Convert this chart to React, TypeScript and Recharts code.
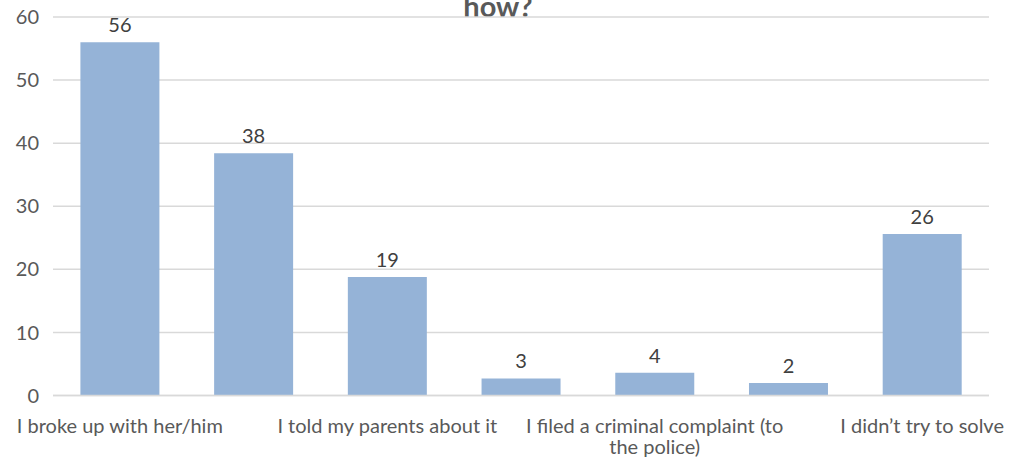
import { BarChart, Bar, XAxis, YAxis, CartesianGrid, LabelList, ReferenceLine } from "recharts";

const categories = [
  "I broke up with her/him",
  "I talked to my friends about it",
  "I told my parents about it",
  "I asked a teacher for help",
  "I filed a criminal complaint (to the police)",
  "I asked a professional for help",
  "I didn\u2019t try to solve",
];
const values = [56.0, 38.4, 18.8, 2.7, 3.6, 2.0, 25.6];
const yTicks = [0, 10, 20, 30, 40, 50, 60];
const titleText = "how?";

const data = categories.map((name, i) => ({ name, value: values[i] }));

const FONT = "Lato, 'Open Sans', sans-serif";
const FS = 20;
const MAX_CHARS = 33;

// simple word wrap by character count
function wrap(label: string): string[] {
  const lines: string[] = [];
  let cur = "";
  for (const w of label.split(" ")) {
    const next = cur ? cur + " " + w : w;
    if (next.length > MAX_CHARS && cur) {
      lines.push(cur);
      cur = w;
    } else {
      cur = next;
    }
  }
  if (cur) lines.push(cur);
  return lines;
}

const XTick = (props: any) => {
  const { x, y, payload } = props;
  const lines = wrap(String(payload.value));
  return (
    <text
      x={x}
      y={y}
      textAnchor="middle"
      fill="#595959"
      style={{ fontSize: FS, fontFamily: FONT }}
    >
      {lines.map((l, i) => (
        <tspan key={i} x={x} dy={i === 0 ? "0.71em" : "1.08em"}>
          {l}
        </tspan>
      ))}
    </text>
  );
};

export default function App() {
  return (
    <div style={{ position: "relative", width: 1017, height: 464, background: "#fff", overflow: "hidden" }}>
      <style>{`body{margin:0}`}</style>
      <div
        style={{
          position: "absolute",
          left: 0,
          width: 996,
          top: -11,
          textAlign: "center",
          fontFamily: FONT,
          fontWeight: 700,
          fontSize: 29,
          color: "#595959",
          lineHeight: "34px",
        }}
      >
        {titleText}
      </div>
      <BarChart
        width={1017}
        height={464}
        data={data}
        barCategoryGap="20.5%"
        margin={{ top: 17, right: 28, left: 0, bottom: 0 }}
      >
        <CartesianGrid vertical={false} stroke="#d9d9d9" strokeWidth={1.5} />
        <XAxis
          dataKey="name"
          interval={1}
          axisLine={false}
          tickLine={false}
          tickSize={0}
          tickMargin={23}
          height={68.5}
          tick={<XTick />}
        />
        <YAxis
          domain={[0, 60]}
          ticks={yTicks}
          axisLine={false}
          tickLine={false}
          tickSize={0}
          tickMargin={14}
          width={53}
          tick={{ fontSize: FS, fill: "#595959", fontFamily: FONT }}
        />
        <Bar dataKey="value" fill="#95B3D7" isAnimationActive={false}>
          <LabelList
            dataKey="value"
            position="top"
            offset={10}
            formatter={(v: any) => Math.round(Number(v))}
            style={{ fontSize: FS, fill: "#404040", fontFamily: FONT }}
          />
        </Bar>
        <ReferenceLine y={0} stroke="#d9d9d9" strokeWidth={1.5} />
      </BarChart>
    </div>
  );
}
